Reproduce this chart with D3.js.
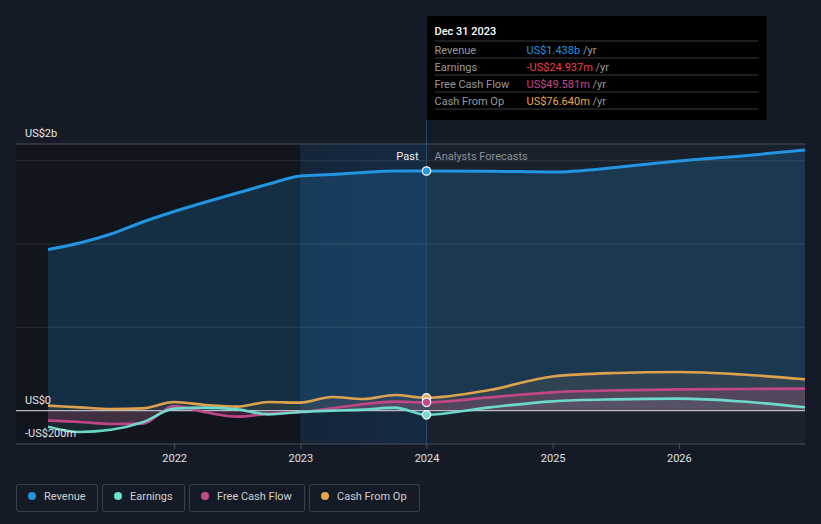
<!DOCTYPE html>
<html><head><meta charset="utf-8">
<script src="https://cdn.jsdelivr.net/npm/d3@7/dist/d3.min.js"></script>
<style>
body{margin:0;background:#151b26;font-family:Roboto,"Noto Sans",sans-serif;}
svg{display:block;}
</style></head><body>
<svg id="c" width="821" height="524"></svg>
<script>
// ---- data (US$ millions) ----
const periods = [2021.0,2021.25,2021.5,2021.75,2022.0,2022.25,2022.5,2022.75,2023.0,2023.25,2023.5,2023.75,2024.0,2024.5,2025.0,2025.5,2026.0,2026.5,2027.0];
const revenue  = [967,1006,1060,1132,1195,1252,1306,1360,1408,1417,1429,1438,1438,1437,1432,1459,1498,1528,1564];
const earnings = [-96,-128,-115,-70,12,18,8,-22,-8,0,6,18,-25,20,56,68,72,55,20];
const freeCashFlow = [-60,-68,-80,-78,28,-10,-36,-18,-8,14,40,54,50,80,110,122,128,130,132];
const cashFromOp = [30,20,10,14,52,34,24,52,48,82,70,94,77,124,205,226,232,217,188];
const yearTicks = [2022,2023,2024,2025,2026];
const seriesNames = ["Revenue","Earnings","Free Cash Flow","Cash From Op"];
const seriesColors = ["#2394df","#6fe0d2","#c8488a","#e8a84f"];
const tooltipDate = "Dec 31 2023";
const tooltipValues = ["US$1.438b","-US$24.937m","US$49.581m","US$76.640m"];
const tooltipValueColors = ["#2394df","#f03e44","#c8488a","#e8a84f"];
const yLabels = [{v:1600,t:"US$2b"},{v:0,t:"US$0"},{v:-200,t:"-US$200m"}];
const gridValues = [500,1000,1500];
const nowYear = 2024.0, bandStart = 2023.0;

const svg = d3.select("#c");
const x = d3.scaleLinear().domain([2021,2027]).range([48,805]);
const y = d3.scaleLinear().domain([-200,1600]).range([444,144]);
const left = 16, right = 805;

// backgrounds
svg.append("rect").attr("x",left).attr("y",y(1600)).attr("width",x(bandStart)-left).attr("height",y(-200)-y(1600)).attr("fill","#11151d");
svg.append("rect").attr("x",x(nowYear)).attr("y",y(1600)).attr("width",right-x(nowYear)).attr("height",y(-200)-y(1600)).attr("fill","#19212d");
const defs = svg.append("defs");
const bg = defs.append("linearGradient").attr("id","band").attr("x1","0").attr("x2","1").attr("y1","0").attr("y2","0");
bg.append("stop").attr("offset","0").attr("stop-color","#15253a");
bg.append("stop").attr("offset","1").attr("stop-color","#142a42");
svg.append("rect").attr("x",x(bandStart)).attr("y",y(1600)).attr("width",x(nowYear)-x(bandStart)).attr("height",y(-200)-y(1600)).attr("fill","url(#band)");

const rows = periods.map((p,i)=>({p, rev:revenue[i], ear:earnings[i], fcf:freeCashFlow[i], cfo:cashFromOp[i]}));
const curve = d3.curveMonotoneX;

// revenue area
svg.append("path").datum(rows)
  .attr("d", d3.area().x(d=>x(d.p)).y0(y(0)).y1(d=>y(d.rev)).curve(curve))
  .attr("fill","#2394df").attr("fill-opacity",0.2);

// lower series areas
const keys = ["ear","fcf","cfo"];
keys.forEach((k,i)=>{
  svg.append("path").datum(rows)
    .attr("d", d3.area().x(d=>x(d.p)).y0(y(0)).y1(d=>y(d[k])).curve(curve))
    .attr("fill",seriesColors[i+1]).attr("fill-opacity",k==="fcf"?0.22:0.1);
});

// grid
gridValues.forEach(v=>{
  svg.append("line").attr("x1",left).attr("x2",right).attr("y1",y(v)).attr("y2",y(v))
    .attr("stroke","#ffffff").attr("stroke-opacity",0.1);
});
svg.append("line").attr("x1",left).attr("x2",right).attr("y1",y(1600)).attr("y2",y(1600)).attr("stroke","#4a4f58");
svg.append("line").attr("x1",left).attr("x2",right).attr("y1",y(0)).attr("y2",y(0)).attr("stroke","#b8bcc2").attr("stroke-width",1.2);

// x axis
const xAxis = d3.axisBottom(x).tickValues(yearTicks).tickFormat(d3.format("d")).tickSize(5).tickPadding(5);
const gx = svg.append("g").attr("transform",`translate(0,${y(-200)})`).call(xAxis);
gx.select(".domain").remove();
gx.selectAll(".tick line").attr("stroke","#4a4f58");
gx.selectAll(".tick text").attr("fill","#e0e0e0").attr("font-size",11).attr("font-family","Roboto");
svg.append("line").attr("x1",left).attr("x2",right).attr("y1",y(-200)).attr("y2",y(-200)).attr("stroke","#4a4f58");

// now line
svg.append("line").attr("x1",x(nowYear)).attr("x2",x(nowYear)).attr("y1",16).attr("y2",y(-200)).attr("stroke","#24476a").attr("stroke-width",1);

// lines
const lineKeys = ["rev","ear","fcf","cfo"];
[3,2,1,0].forEach(i=>{
  const k = lineKeys[i];
  svg.append("path").datum(rows)
    .attr("d", d3.line().x(d=>x(d.p)).y(d=>y(d[k])).curve(curve))
    .attr("fill","none").attr("stroke",seriesColors[i]).attr("stroke-width", i===0?3:2.6).attr("stroke-opacity", i===0?1:0.95);
});

// markers
const nowRow = rows.find(r=>r.p===nowYear);
[3,2,1,0].forEach(i=>{
  svg.append("circle").attr("cx",x(nowYear)).attr("cy",y(nowRow[lineKeys[i]])).attr("r",4.2)
    .attr("fill",seriesColors[i]).attr("stroke","#ffffff").attr("stroke-width",1.2);
});

// y labels
yLabels.forEach(l=>{
  svg.append("text").attr("x",25).attr("y",y(l.v)-7).text(l.t)
    .attr("fill","#e6e6e6").attr("font-size",11);
});

// Past / Forecast labels
svg.append("text").attr("x",x(nowYear)-8).attr("y",160).attr("text-anchor","end").text("Past").attr("fill","#f0f0f0").attr("font-size",11);
svg.append("text").attr("x",x(nowYear)+8).attr("y",160).text("Analysts Forecasts").attr("fill","#8a8f96").attr("font-size",11);

// tooltip
const tt = svg.append("g").attr("transform",`translate(${x(nowYear)},16)`);
tt.append("rect").attr("width",340).attr("height",104).attr("fill","#000000");
tt.append("text").attr("x",8).attr("y",19).text(tooltipDate).attr("fill","#ffffff").attr("font-size",11).attr("font-weight",500);
seriesNames.forEach((n,i)=>{
  const ry = 25 + i*17;
  tt.append("line").attr("x1",8).attr("x2",332).attr("y1",ry).attr("y2",ry).attr("stroke","#3a3a3a");
  tt.append("text").attr("x",8).attr("y",ry+12.5).text(n).attr("fill","#9a9a9a").attr("font-size",11);
  const t = tt.append("text").attr("x",100).attr("y",ry+12.5).attr("font-size",11);
  t.append("tspan").text(tooltipValues[i]).attr("fill",tooltipValueColors[i]);
  t.append("tspan").text(" /yr").attr("fill","#9a9a9a");
});
tt.append("line").attr("x1",8).attr("x2",332).attr("y1",25+4*17).attr("y2",25+4*17).attr("stroke","#3a3a3a");

// legend
const legendW = [81,82,115,110];
let lx = 16;
seriesNames.forEach((n,i)=>{
  const g = svg.append("g").attr("transform",`translate(${lx},484)`);
  g.append("rect").attr("x",0.5).attr("y",0.5).attr("width",legendW[i]).attr("height",27).attr("rx",2)
    .attr("fill","none").attr("stroke","#3a3f4a");
  g.append("circle").attr("cx",16).attr("cy",12).attr("r",4).attr("fill",seriesColors[i]);
  g.append("text").attr("x",28).attr("y",16).text(n).attr("fill","#d0d0d0").attr("font-size",11);
  lx += legendW[i] + 5;
});
</script>
</body></html>
